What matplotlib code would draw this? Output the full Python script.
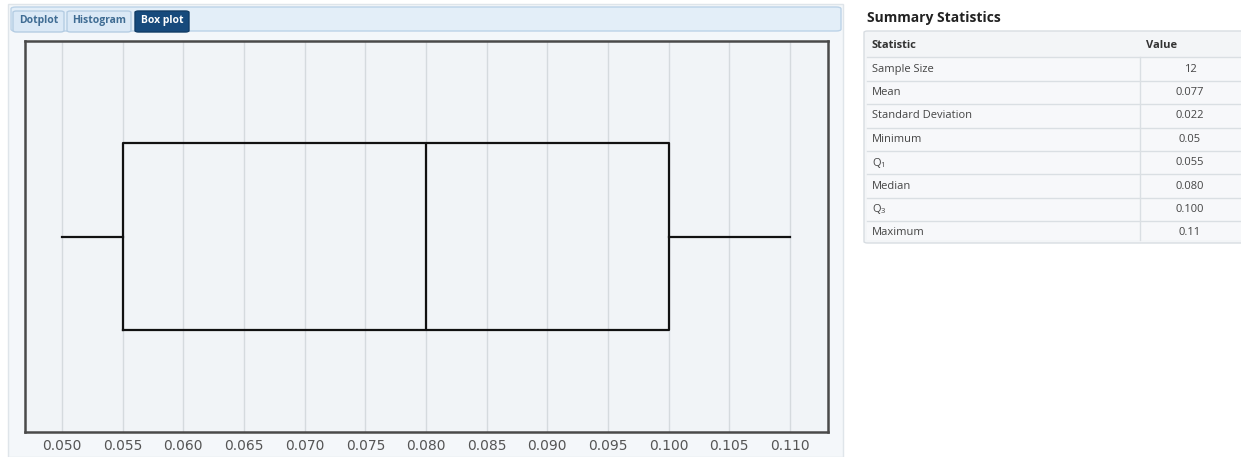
import matplotlib.pyplot as plt
from matplotlib import font_manager
from matplotlib.patches import FancyBboxPatch, Rectangle

# box plot summary
stat_min = 0.05
stat_q1 = 0.055
stat_median = 0.080
stat_q3 = 0.100
stat_max = 0.11

tick_values = [0.050, 0.055, 0.060, 0.065, 0.070, 0.075, 0.080, 0.085, 0.090, 0.095, 0.100, 0.105, 0.110]
tab_names = ["Dotplot", "Histogram", "Box plot"]
stat_names = ["Sample Size", "Mean", "Standard Deviation", "Minimum", "$\\mathregular{Q_1}$",
              "Median", "$\\mathregular{Q_3}$", "Maximum"]
stat_values = ["12", "0.077", "0.022", "0.05", "0.055", "0.080", "0.100", "0.11"]

W, H = 1241, 457
fig = plt.figure(figsize=(W / 100, H / 100), dpi=100)
fig.patch.set_facecolor("white")


def pick_font(weight):
    # pick a normal-width Open Sans file so condensed variants are not used
    for f in font_manager.fontManager.ttflist:
        if f.name == "Open Sans" and f.stretch == "normal" and f.style == "normal" and f.weight == weight \
                and "ondensed" not in f.fname:
            return font_manager.FontProperties(fname=f.fname)
    return font_manager.FontProperties(family="DejaVu Sans", weight=weight)


REG = pick_font(400)
BOLD = pick_font(700)


def px(x, y):
    return x / W, 1 - y / H


def frect(x0, y0, x1, y1, **kw):
    fx, fy = px(x0, y1)
    r = Rectangle((fx, fy), (x1 - x0) / W, (y1 - y0) / H, transform=fig.transFigure, **kw)
    fig.patches.append(r)
    return r


# left panel background
frect(8, 4, 843, 457, facecolor="#f4f7fa", edgecolor="#dfe5ea", lw=1)

# tab bar
bar = FancyBboxPatch(px(11, 31), (841 - 11) / W, 24 / H, boxstyle="round,pad=0,rounding_size=0.004",
                     transform=fig.transFigure, facecolor="#e3eef8", edgecolor="#bcd3e8", lw=1)
fig.patches.append(bar)
tab_x = [(13, 64), (67, 131), (135, 189)]
for name, (a, b) in zip(tab_names, tab_x):
    active = name == "Box plot"
    t = FancyBboxPatch(px(a, 32), (b - a) / W, 21 / H, boxstyle="round,pad=0,rounding_size=0.003",
                       transform=fig.transFigure,
                       facecolor="#174a7c" if active else "#dbe9f6",
                       edgecolor="#123d66" if active else "#b5cde3", lw=1)
    fig.patches.append(t)
    fig.text(*px((a + b) / 2, 21), name, ha="center", va="center", fontsize=7.5, fontproperties=BOLD,
             color="white" if active else "#3f6c93")

# chart
ax = fig.add_axes([25 / W, 1 - 432 / H, (828 - 25) / W, (432 - 41) / H])
ax.set_zorder(5)
ax.set_facecolor("#f1f4f7")
span = (tick_values[-1] - tick_values[0]) / (790 - 62)

stats = [{"whislo": stat_min, "q1": stat_q1, "med": stat_median, "q3": stat_q3, "whishi": stat_max,
          "fliers": []}]
ax.bxp(stats, positions=[0.5], widths=0.476, orientation="horizontal", showcaps=False,
       boxprops=dict(color="#111111", lw=1.6),
       medianprops=dict(color="#111111", lw=1.6),
       whiskerprops=dict(color="#111111", lw=1.6))

ax.set_xlim(tick_values[0] - 37 * span, tick_values[-1] + 38 * span)
ax.set_ylim(0, 1)
ax.set_xticks(tick_values)
ax.set_xticklabels([f"{v:.3f}" for v in tick_values], fontsize=10, color="#555555", family="DejaVu Sans")
ax.tick_params(axis="x", length=0, pad=5)
ax.set_yticks([])
ax.grid(axis="x", color="#d5dade", lw=1)
ax.set_axisbelow(True)
for s in ax.spines.values():
    s.set_color("#4a4a4a")
    s.set_linewidth(1.8)

# summary statistics table
fig.text(*px(867, 18), "Summary Statistics", ha="left", va="center", fontproperties=BOLD, fontsize=10,
         color="#222222")
tbl = FancyBboxPatch(px(864, 243), (1245 - 864) / W, (243 - 31) / H,
                     boxstyle="round,pad=0,rounding_size=0.003", transform=fig.transFigure,
                     facecolor="#f3f5f7", edgecolor="#d8dde2", lw=1)
fig.patches.append(tbl)
row_h = 23.4
top = 34
frect(867, top, 1245, 240, facecolor="#f7f8fa", edgecolor="none")
frect(867, top, 1245, top + row_h, facecolor="#f3f5f7", edgecolor="none")
fig.text(*px(872, top + row_h / 2), "Statistic", ha="left", va="center", fontproperties=BOLD, fontsize=8,
         color="#333333")
fig.text(*px(1146, top + row_h / 2), "Value", ha="left", va="center", fontproperties=BOLD, fontsize=8,
         color="#333333")
for i, (name, val) in enumerate(zip(stat_names, stat_values)):
    y0 = top + row_h * (i + 1)
    fig.lines.append(plt.Line2D([867 / W, 1245 / W], [1 - y0 / H] * 2, transform=fig.transFigure,
                                color="#dadfe3", lw=1))
    fig.text(*px(872, y0 + row_h / 2), name, ha="left", va="center", fontproperties=REG, fontsize=8,
             color="#444444")
    fig.text(*px(1190, y0 + row_h / 2), val, ha="center", va="center", fontproperties=REG, fontsize=8,
             color="#444444")
fig.lines.append(plt.Line2D([1140 / W] * 2, [1 - (top + row_h) / H, 1 - 240 / H], transform=fig.transFigure,
                            color="#dadfe3", lw=1))

fig.savefig("out.png", dpi=100)
